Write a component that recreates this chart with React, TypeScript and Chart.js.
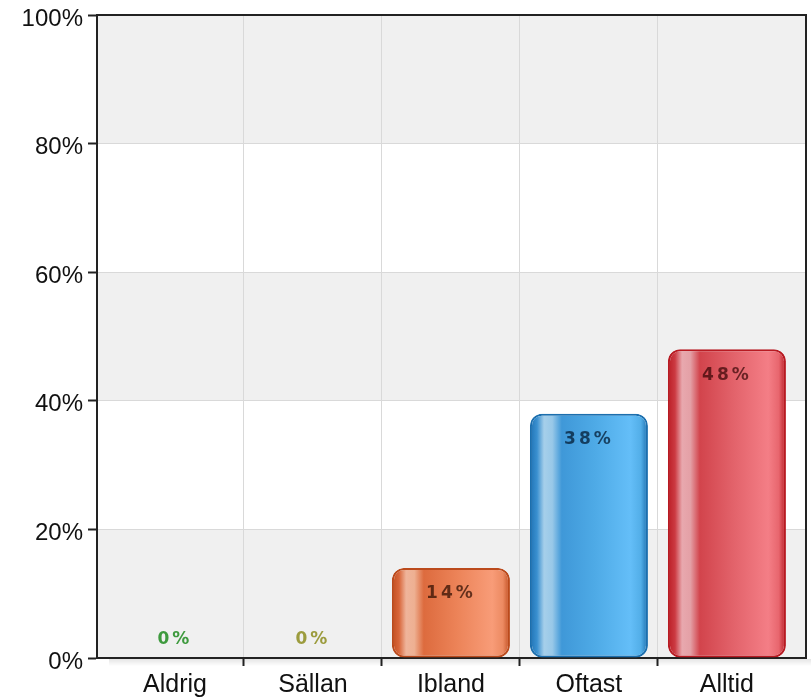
import React, { useEffect, useRef } from 'react';
import { Chart, registerables } from 'chart.js';

Chart.register(...registerables);

const categories = ['Aldrig', 'Sällan', 'Ibland', 'Oftast', 'Alltid'];
const values = [0, 0, 14, 38, 48];
const yTickValues = [0, 20, 40, 60, 80, 100];
const categoryBoundaries = [0.5, 1.5, 2.5, 3.5];
const valueLabelColors = ['#3e9a3e', '#9c9c3e', 'rgba(45,12,0,0.72)', 'rgba(0,22,45,0.72)', 'rgba(45,0,0,0.68)'];

type Palette = { border: string; stops: [number, string][] };
const palettes: Palette[] = [
  { border: '#2f8a2f', stops: [[0, '#3e9a3e'], [1, '#3e9a3e']] },
  { border: '#8c8c2e', stops: [[0, '#9c9c3e'], [1, '#9c9c3e']] },
  {
    border: '#bb4a1c',
    stops: [[0, '#c24d1e'], [0.06, '#d8663a'], [0.12, '#efb49a'], [0.19, '#eeb092'], [0.27, '#dd6b3e'], [0.55, '#ec8358'], [0.85, '#f89c78'], [0.94, '#ec8a62'], [1, '#c04c1e']],
  },
  {
    border: '#1c6fae',
    stops: [[0, '#1f72b4'], [0.06, '#3a90d0'], [0.12, '#a6cfea'], [0.19, '#98c8e8'], [0.27, '#3f98d8'], [0.55, '#4eaae6'], [0.85, '#64bef8'], [0.94, '#52aee8'], [1, '#1c6eae']],
  },
  {
    border: '#b81a22',
    stops: [[0, '#bb1e26'], [0.06, '#cc3a42'], [0.12, '#e8a8ae'], [0.19, '#e4a0a6'], [0.27, '#d2444c'], [0.55, '#e2626a'], [0.85, '#f47e86'], [0.94, '#e8666e'], [1, '#b81a22']],
  },
];

const FONT = '"Liberation Sans", Arial, sans-serif';
const X_MIN = -0.565;
const X_MAX = 4.573;
const BAR_PCT = 0.855;

const chartFrame = {
  id: 'chartFrame',
  beforeDraw(chart: any) {
    const { ctx, chartArea } = chart;
    const ys = chart.scales.y;
    ctx.save();
    ctx.fillStyle = '#ffffff';
    ctx.fillRect(chartArea.left, chartArea.top, chartArea.right - chartArea.left, chartArea.bottom - chartArea.top);
    for (let i = 0; i < yTickValues.length - 1; i++) {
      if (i % 2 === 0) {
        const yb = ys.getPixelForValue(yTickValues[i]);
        const yt = ys.getPixelForValue(yTickValues[i + 1]);
        ctx.fillStyle = '#f0f0f0';
        ctx.fillRect(chartArea.left, yt, chartArea.right - chartArea.left, yb - yt);
      }
    }
    ctx.restore();
  },
  afterDraw(chart: any) {
    const { ctx, chartArea } = chart;
    ctx.save();
    const g = ctx.createLinearGradient(0, chartArea.bottom + 1, 0, chartArea.bottom + 8);
    g.addColorStop(0, 'rgba(0,0,0,0.10)');
    g.addColorStop(1, 'rgba(0,0,0,0)');
    ctx.fillStyle = g;
    ctx.fillRect(chartArea.left + 12, chartArea.bottom + 1, chartArea.right - chartArea.left - 6, 7);
    ctx.strokeStyle = '#222222';
    ctx.lineWidth = 2;
    ctx.beginPath();
    ctx.moveTo(chartArea.left, chartArea.top);
    ctx.lineTo(chartArea.right, chartArea.top);
    ctx.lineTo(chartArea.right, chartArea.bottom);
    ctx.stroke();
    ctx.restore();
  },
};

const valueLabels = {
  id: 'valueLabels',
  afterDatasetsDraw(chart: any) {
    const { ctx } = chart;
    const meta = chart.getDatasetMeta(0);
    const ys = chart.scales.y;
    const base = ys.getPixelForValue(0);
    ctx.save();
    ctx.font = 'bold 17px "DejaVu Sans", sans-serif';
    ctx.textAlign = 'center';
    ctx.textBaseline = 'middle';
    (ctx as any).letterSpacing = '3px';
    meta.data.forEach((el: any, i: number) => {
      const top = ys.getPixelForValue(values[i]);
      const y = Math.min(top + 26, base - 18);
      ctx.fillStyle = valueLabelColors[i];
      ctx.fillText(values[i] + '%', el.x, y);
    });
    ctx.restore();
  },
};

function barFill(c: any) {
  const i = c.dataIndex;
  if (i === undefined) return '#888';
  const p = palettes[i];
  const chart = c.chart;
  const xs = chart.scales.x;
  if (!xs || !chart.chartArea) return p.stops[0][1];
  const cx = xs.getPixelForValue(i);
  const half = ((xs.getPixelForValue(1) - xs.getPixelForValue(0)) * BAR_PCT) / 2;
  const g = chart.ctx.createLinearGradient(cx - half, 0, cx + half, 0);
  p.stops.forEach(([o, col]) => g.addColorStop(o, col));
  return g;
}

export default function App() {
  const ref = useRef<HTMLCanvasElement>(null);
  useEffect(() => {
    const canvas = ref.current!;
    const chart = new Chart(canvas, {
      type: 'bar',
      data: {
        datasets: [
          {
            data: categories.map((_, i) => ({ x: i, y: values[i] })) as any,
            xAxisID: 'x',
            yAxisID: 'y',
            backgroundColor: barFill as any,
            borderColor: ((c: any) => (c.dataIndex === undefined ? '#888' : palettes[c.dataIndex].border)) as any,
            borderWidth: ((c: any) => (c.dataIndex === undefined || values[c.dataIndex] === 0 ? 0 : 2)) as any,
            borderRadius: 12,
            borderSkipped: false,
            categoryPercentage: 1,
            barPercentage: BAR_PCT,
          },
        ],
      },
      options: {
        animation: false,
        responsive: false,
        devicePixelRatio: 1,
        layout: { padding: { top: 0, right: 5, bottom: 0, left: 0 } },
        plugins: { legend: { display: false }, tooltip: { enabled: false } },
        scales: {
          x: {
            type: 'linear',
            position: 'bottom',
            min: X_MIN,
            max: X_MAX,
            offset: false,
            weight: 0,
            afterBuildTicks: (s: any) => {
              s.ticks = categoryBoundaries.map((v) => ({ value: v }));
            },
            afterFit: (s: any) => {
              s.height = 8;
              s.paddingLeft = 0;
              s.paddingRight = 0;
            },
            ticks: { display: false },
            grid: { offset: false, color: '#d9d9d9', lineWidth: 1, tickLength: 8, tickColor: '#222222', tickWidth: 2 },
            border: { display: true, color: '#222222', width: 2 },
          },
          xl: {
            type: 'linear',
            position: 'bottom',
            min: X_MIN,
            max: X_MAX,
            offset: false,
            weight: 1,
            afterBuildTicks: (s: any) => {
              s.ticks = categories.map((_, i) => ({ value: i }));
            },
            afterFit: (s: any) => {
              s.height = 32;
              s.paddingLeft = 0;
              s.paddingRight = 0;
            },
            ticks: {
              callback: (v: any) => categories[Number(v)],
              font: { family: FONT, size: 25 },
              color: '#111111',
              padding: -4,
              maxRotation: 0,
              autoSkip: false,
            },
            grid: { display: false, offset: false },
            border: { display: false },
          },
          y: {
            type: 'linear',
            min: 0,
            max: 100,
            afterBuildTicks: (s: any) => {
              s.ticks = yTickValues.map((v) => ({ value: v }));
            },
            afterFit: (s: any) => {
              s.width = 97;
              s.paddingTop = 15;
              s.paddingBottom = 0;
            },
            ticks: {
              callback: (v: any) => v + '%',
              font: { family: FONT, size: 24 },
              color: '#111111',
              padding: 5,
              labelOffset: 4,
            },
            grid: { color: '#d9d9d9', lineWidth: 1, tickLength: 9, tickColor: '#222222', tickWidth: 2 },
            border: { display: true, color: '#222222', width: 2 },
          },
        },
      } as any,
      plugins: [chartFrame, valueLabels],
    });
    return () => chart.destroy();
  }, []);
  return (
    <div style={{ position: 'absolute', left: 0, top: 0, width: 811, height: 698, background: '#fff' }}>
      <canvas ref={ref} width={811} height={698} style={{ display: 'block' }} />
    </div>
  );
}
